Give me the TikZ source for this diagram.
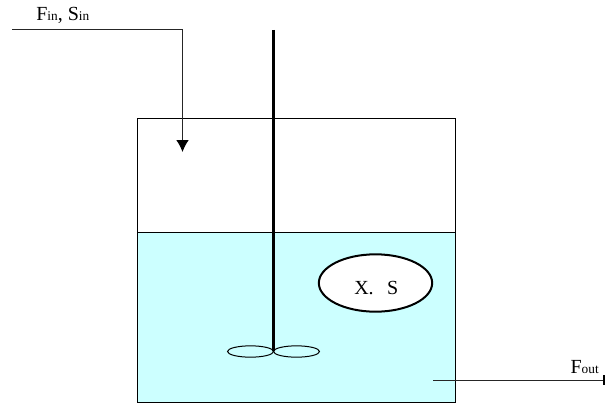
\documentclass[tikz,border=0pt]{standalone}
\usepackage{fontspec}
\setmainfont{Liberation Serif}
\usetikzlibrary{arrows.meta,shapes.geometric}
\newcommand{\lowtext}[1]{{\fontsize{10}{11}\selectfont #1}}
\tikzset{
  flowline/.style={line width=0.75pt,draw=black!85},
  flowlabel/.style={font=\fontsize{15}{17}\selectfont,inner sep=0pt},
  blade/.style={draw=black,line width=0.75pt,fill=none}
}
\begin{document}
\begin{tikzpicture}[x=0.75pt,y=-0.75pt,line cap=butt,line join=miter]
  \useasboundingbox (0,0) rectangle (605,403);
  \coordinate (tankNW) at (137,118);
  \coordinate (tankSE) at (455,402);
  \coordinate (levelW) at (137,232);
  \coordinate (inStart) at (12,30);
  \coordinate (inBend) at (182.5,30);
  \coordinate (inEnd) at (182.5,152);
  \coordinate (outStart) at (433,380);
  \coordinate (outEnd) at (605,380);
  \coordinate (shaftTop) at (273.5,30);
  \coordinate (shaftEnd) at (273.5,351);
  % liquid and tank
  \fill[fill={rgb,255:red,204;green,255;blue,255}] (levelW) rectangle (tankSE);
  \draw[line width=0.75pt] (tankNW) rectangle (tankSE);
  \draw[line width=0.75pt] (levelW) -- (455,232);
  % feed and outlet
  \draw[flowline,-{Latex[black,length=9pt,width=9.5pt]}] (inStart) -- (inBend) -- (inEnd);
  \draw[flowline,-{Rectangle[black,length=1.5pt,width=7pt]}] (outStart) -- (outEnd);
  % stirrer
  \draw[line width=2.25pt] (shaftTop) -- (shaftEnd);
  \node[blade,ellipse,minimum width=34.5pt,minimum height=8.5pt,inner sep=0pt] (bladeL) at (250.5,351.5) {};
  \node[blade,ellipse,minimum width=34.5pt,minimum height=8.5pt,inner sep=0pt] (bladeR) at (296.5,351.5) {};
  % cells
  \node[ellipse,draw=black,line width=1.5pt,fill=white,minimum width=85pt,minimum height=43pt,inner sep=0pt] (cells) at (375.5,283) {};
  \node[flowlabel,anchor=base west] (cellsText) at (354,294) {X.\ \ \,S};
  % labels
  \node[flowlabel,anchor=base west] (inLabel) at (36,21) {F\lowtext{in}, S\lowtext{in}};
  \node[flowlabel,anchor=base east] (outLabel) at (599,373) {F\lowtext{out}};
\end{tikzpicture}
\end{document}
